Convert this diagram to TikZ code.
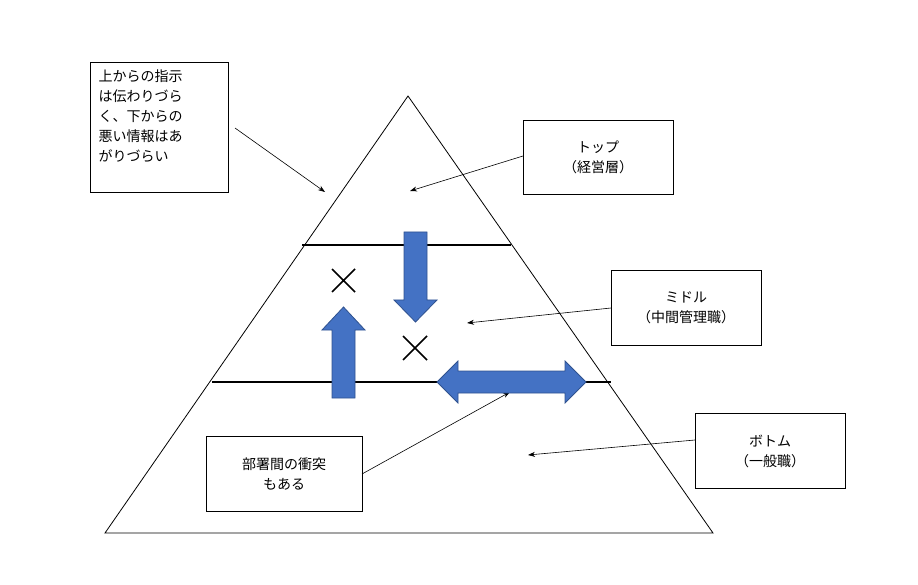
\documentclass[tikz,border=0pt]{standalone}
\usepackage{fontspec}
\newfontfamily\jp{Noto Sans CJK JP}
\usetikzlibrary{arrows.meta}
\definecolor{blu}{HTML}{4472C4}
\definecolor{bluD}{HTML}{2F528F}
\begin{document}
\begin{tikzpicture}[x=1pt,y=-1pt,
  box/.style={draw,line width=0.8pt,fill=white},
  lbl/.style={font=\jp\fontsize{14}{20}\selectfont,align=center},
  ptr/.style={-{Stealth[length=7pt,width=5pt]},line width=0.6pt},
  barr/.style={fill=blu,draw=bluD,line width=0.8pt},
  xx/.style={line width=1.5pt}]
\useasboundingbox (0,0) rectangle (918,585);
\coordinate (A) at (408,96); \coordinate (B) at (105,533); \coordinate (C) at (713,533);
\draw[line width=0.8pt] (A)--(B)--(C)--cycle;
\coordinate (l1a) at (302,245); \coordinate (l1b) at (511,245);
\coordinate (l2a) at (212,382); \coordinate (l2b) at (611,382);
\draw[line width=2pt] (l1a)--(l1b);
\draw[line width=2pt] (l2a)--(l2b);
% boxes
\draw[box] (90,62) rectangle (228,192);
\node[lbl,align=left,anchor=north west] (tl) at (95,66) {上からの指示\\は伝わりづら\\く、下からの\\悪い情報はあ\\がりづらい};
\coordinate (tlp) at (235,128);
\draw[box] (523,120) rectangle (673,194);
\node[lbl] (top) at (598,157) {トップ\\（経営層）};
\draw[box] (611,270) rectangle (761,345);
\node[lbl] (mid) at (686,308) {ミドル\\（中間管理職）};
\draw[box] (695,413) rectangle (845,488);
\node[lbl] (bot) at (770,451) {ボトム\\（一般職）};
\draw[box] (206,436) rectangle (362,511);
\node[lbl] (dep) at (284,474) {部署間の衝突\\もある};
\coordinate (p1) at (325,192); \coordinate (p2) at (410,191);
\coordinate (p3) at (467,323); \coordinate (p4) at (528,455); \coordinate (p5) at (510,392);
\draw[ptr] (tlp)--(p1);
\draw[ptr] (523,156)--(p2);
\draw[ptr] (611,308)--(p3);
\draw[ptr] (695,440)--(p4);
\draw[ptr] (362,474)--(p5);
% blue arrows
\draw[barr] (404,232)--(427,232)--(427,300)--(437,300)--(415.5,322)--(394,300)--(404,300)--cycle;
\draw[barr] (332,398)--(355,398)--(355,330)--(365,330)--(343.5,307)--(322,330)--(332,330)--cycle;
\draw[barr] (437,382)--(458,361)--(458,371)--(565,371)--(565,361)--(586,382)--(565,403)--(565,393)--(458,393)--(458,403)--cycle;
% crosses
\draw[xx] (332,269)--(355,292) (355,269)--(332,292);
\draw[xx] (403,336)--(427,360) (427,336)--(403,360);
\end{tikzpicture}
\end{document}
